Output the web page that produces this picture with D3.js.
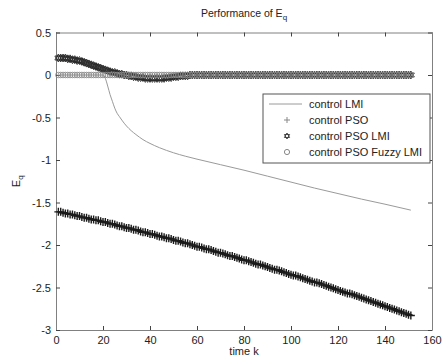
<!DOCTYPE html>
<html>
<head>
<meta charset="utf-8">
<script src="https://cdn.jsdelivr.net/npm/d3@7"></script>
<style>
  body { margin: 0; background: #fff; }
  svg { display: block; font-family: "Liberation Sans", Arial, sans-serif; }
</style>
</head>
<body>
<div class="chart"></div>
<script>
// Axis ticks
const xTicks = [0, 20, 40, 60, 80, 100, 120, 140, 160];
const yTicks = [0.5, 0, -0.5, -1, -1.5, -2, -2.5, -3];

// control LMI (solid gray line), read at a few time steps
const lmiK = [1, 20, 21, 22, 23, 24, 25, 26, 27, 28, 30, 32, 34, 37, 40, 44, 50, 55, 60, 70, 80, 90, 100, 110, 120, 130, 140, 151];
const lmiVal = [0, 0, -0.04, -0.13, -0.23, -0.31, -0.39, -0.45, -0.49, -0.53, -0.6, -0.655, -0.7, -0.76, -0.805, -0.855, -0.915, -0.955, -0.99, -1.055, -1.12, -1.19, -1.26, -1.33, -1.395, -1.46, -1.52, -1.59];

// marker series, one value per time step k = 1..151
const psoVal = [
  -1.61,-1.61,-1.62,-1.63,-1.63,-1.64,-1.64,-1.65,-1.66,-1.66,
  -1.67,-1.68,-1.68,-1.69,-1.70,-1.70,-1.71,-1.71,-1.72,-1.73,
  -1.73,-1.74,-1.75,-1.75,-1.76,-1.77,-1.78,-1.78,-1.79,-1.80,
  -1.80,-1.81,-1.82,-1.82,-1.83,-1.84,-1.85,-1.85,-1.86,-1.87,
  -1.87,-1.88,-1.89,-1.90,-1.90,-1.91,-1.92,-1.92,-1.93,-1.94,
  -1.95,-1.95,-1.96,-1.97,-1.98,-1.98,-1.99,-2.00,-2.01,-2.02,
  -2.02,-2.03,-2.04,-2.05,-2.05,-2.06,-2.07,-2.08,-2.09,-2.09,
  -2.10,-2.11,-2.12,-2.13,-2.13,-2.14,-2.15,-2.16,-2.17,-2.18,
  -2.18,-2.19,-2.20,-2.21,-2.22,-2.23,-2.23,-2.24,-2.25,-2.26,
  -2.27,-2.28,-2.29,-2.29,-2.30,-2.31,-2.32,-2.33,-2.34,-2.35,
  -2.36,-2.36,-2.37,-2.38,-2.39,-2.40,-2.41,-2.42,-2.43,-2.44,
  -2.44,-2.45,-2.46,-2.47,-2.48,-2.49,-2.50,-2.51,-2.52,-2.53,
  -2.54,-2.55,-2.56,-2.57,-2.57,-2.58,-2.59,-2.60,-2.61,-2.62,
  -2.63,-2.64,-2.65,-2.66,-2.67,-2.68,-2.69,-2.70,-2.71,-2.72,
  -2.73,-2.74,-2.75,-2.76,-2.77,-2.78,-2.79,-2.80,-2.81,-2.82,
  -2.83
];
const psoLmiVal = [
  0.20,0.20,0.20,0.20,0.19,0.19,0.18,0.18,0.17,0.17,
  0.16,0.15,0.14,0.13,0.12,0.11,0.10,0.09,0.08,0.07,
  0.06,0.05,0.04,0.03,0.03,0.02,0.01,0.01,0.00,0.00,
  -0.01,-0.01,-0.02,-0.02,-0.03,-0.03,-0.03,-0.04,-0.04,-0.04,
  -0.04,-0.04,-0.04,-0.04,-0.04,-0.04,-0.03,-0.03,-0.03,-0.02,
  -0.02,-0.02,-0.01,-0.01,-0.01,-0.01,0,0,0,0,
  0,0,0,0,0,0,0,0,0,0,
  0,0,0,0,0,0,0,0,0,0,
  0,0,0,0,0,0,0,0,0,0,
  0,0,0,0,0,0,0,0,0,0,
  0,0,0,0,0,0,0,0,0,0,
  0,0,0,0,0,0,0,0,0,0,
  0,0,0,0,0,0,0,0,0,0,
  0,0,0,0,0,0,0,0,0,0,
  0,0,0,0,0,0,0,0,0,0,
  0
];
const fuzzyVal = [
  0,0,0,0,0,0,0,0,0,0, 0,0,0,0,0,0,0,0,0,0,
  0,0,0,0,0,0,0,0,0,0, 0,0,0,0,0,0,0,0,0,0,
  0,0,0,0,0,0,0,0,0,0, 0,0,0,0,0,0,0,0,0,0,
  0,0,0,0,0,0,0,0,0,0, 0,0,0,0,0,0,0,0,0,0,
  0,0,0,0,0,0,0,0,0,0, 0,0,0,0,0,0,0,0,0,0,
  0,0,0,0,0,0,0,0,0,0, 0,0,0,0,0,0,0,0,0,0,
  0,0,0,0,0,0,0,0,0,0, 0,0,0,0,0,0,0,0,0,0,
  0,0,0,0,0,0,0,0,0,0,
  0
];
const legendLabels = ["control LMI", "control PSO", "control PSO LMI", "control PSO Fuzzy LMI"];

const width = 443, height = 363;
const margin = { top: 32.5, right: 11, bottom: 33, left: 56 };

const svg = d3.select(".chart").append("svg")
  .attr("width", width)
  .attr("height", height);

const xScale = d3.scaleLinear().domain([0, 160]).range([margin.left, width - margin.right]);
const yScale = d3.scaleLinear().domain([-3, 0.5]).range([height - margin.bottom, margin.top]);

const axisColor = "#808080";
const textColor = "#222";
const fmt = d => String(d);

// axes with inward ticks, box on all sides
function styleAxis(g) {
  g.select(".domain").attr("stroke", axisColor);
  g.selectAll(".tick line").attr("stroke", "#444");
  g.selectAll(".tick text").attr("fill", textColor).attr("font-size", 11)
    .attr("font-family", "'Liberation Sans', Arial, sans-serif");
}

svg.append("g")
  .attr("transform", `translate(0,${yScale(-3)})`)
  .call(d3.axisBottom(xScale).tickValues(xTicks).tickFormat(fmt).tickSizeInner(-4).tickSizeOuter(0).tickPadding(6))
  .call(styleAxis);
svg.append("g")
  .attr("transform", `translate(0,${yScale(0.5)})`)
  .call(d3.axisTop(xScale).tickValues(xTicks).tickFormat("").tickSizeInner(-4).tickSizeOuter(0))
  .call(styleAxis);
svg.append("g")
  .attr("transform", `translate(${xScale(0)},0)`)
  .call(d3.axisLeft(yScale).tickValues(yTicks).tickFormat(fmt).tickSizeInner(-4).tickSizeOuter(0).tickPadding(5))
  .call(styleAxis);
svg.append("g")
  .attr("transform", `translate(${xScale(160)},0)`)
  .call(d3.axisRight(yScale).tickValues(yTicks).tickFormat("").tickSizeInner(-4).tickSizeOuter(0))
  .call(styleAxis);

// hexagram marker (two triangles)
function hexagram(r) {
  const p = d3.path();
  [-90, 90].forEach(start => {
    for (let i = 0; i < 3; i++) {
      const a = (start + i * 120) * Math.PI / 180;
      const px = r * Math.cos(a), py = r * Math.sin(a);
      if (i === 0) p.moveTo(px, py); else p.lineTo(px, py);
    }
    p.closePath();
  });
  return p.toString();
}
const plusPath = r => `M${-r},0H${r}M0,${-r}V${r}`;

const plot = svg.append("g");

// control LMI line
const lmiData = lmiK.map((k, i) => ({ k, v: lmiVal[i] }));
plot.append("path")
  .datum(lmiData)
  .attr("fill", "none")
  .attr("stroke", "#9a9a9a")
  .attr("stroke-width", 1)
  .attr("d", d3.line().x(d => xScale(d.k)).y(d => yScale(d.v)).curve(d3.curveMonotoneX));

// control PSO (+)
plot.append("g").selectAll("path")
  .data(psoVal.map((v, i) => ({ k: i + 1, v })))
  .join("path")
  .attr("transform", d => `translate(${xScale(d.k)},${yScale(d.v)})`)
  .attr("d", plusPath(4))
  .attr("stroke", "#1a1a1a")
  .attr("stroke-width", 1.4)
  .attr("fill", "none");

// control PSO LMI (hexagram)
plot.append("g").selectAll("path")
  .data(psoLmiVal.map((v, i) => ({ k: i + 1, v })))
  .join("path")
  .attr("transform", d => `translate(${xScale(d.k)},${yScale(d.v)})`)
  .attr("d", hexagram(4))
  .attr("stroke", "#2a2a2a")
  .attr("stroke-width", 0.9)
  .attr("fill", "none");

// control PSO Fuzzy LMI (circles)
plot.append("g").selectAll("circle")
  .data(fuzzyVal.map((v, i) => ({ k: i + 1, v })))
  .join("circle")
  .attr("cx", d => xScale(d.k))
  .attr("cy", d => yScale(d.v))
  .attr("r", 2.8)
  .attr("stroke", "#8a8a8a")
  .attr("stroke-width", 0.8)
  .attr("fill", "none");

// legend
const legend = svg.append("g").attr("transform", "translate(263,94)");
legend.append("rect")
  .attr("width", 167).attr("height", 69)
  .attr("fill", "#fff").attr("stroke", "#555").attr("stroke-width", 1);
legendLabels.forEach((label, i) => {
  const yy = 10 + i * 16;
  const row = legend.append("g").attr("transform", `translate(0,${yy})`);
  if (i === 0) {
    row.append("line").attr("x1", 6).attr("x2", 39).attr("stroke", "#9a9a9a");
  } else if (i === 1) {
    row.append("path").attr("transform", "translate(24,0)").attr("d", plusPath(3))
      .attr("stroke", "#888").attr("fill", "none");
  } else if (i === 2) {
    row.append("path").attr("transform", "translate(24,0)").attr("d", hexagram(3))
      .attr("stroke", "#444").attr("fill", "none");
  } else {
    row.append("circle").attr("cx", 24).attr("r", 2.6)
      .attr("stroke", "#888").attr("fill", "none");
  }
  row.append("text").attr("x", 46).attr("dy", "0.35em")
    .attr("font-size", 11).attr("fill", textColor).text(label);
});

// title and axis labels
const title = svg.append("text")
  .attr("x", (xScale(0) + xScale(160)) / 2).attr("y", 17)
  .attr("text-anchor", "middle").attr("font-size", 10.5).attr("fill", textColor);
title.append("tspan").text("Performance of E");
title.append("tspan").attr("dy", 3).attr("font-size", 8).text("q");

svg.append("text")
  .attr("x", (xScale(0) + xScale(160)) / 2).attr("y", 355)
  .attr("text-anchor", "middle").attr("font-size", 11).attr("fill", textColor)
  .text("time k");

const ylab = svg.append("text")
  .attr("transform", `translate(20,${(yScale(0.5) + yScale(-3)) / 2}) rotate(-90)`)
  .attr("text-anchor", "middle").attr("font-size", 11).attr("fill", textColor);
ylab.append("tspan").text("E");
ylab.append("tspan").attr("dy", 3).attr("font-size", 8).text("q");
</script>
</body>
</html>
